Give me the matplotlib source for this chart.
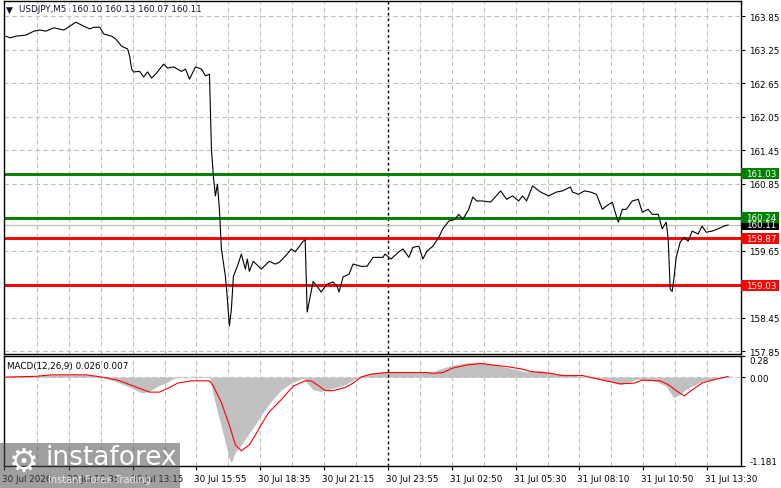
import matplotlib
matplotlib.use("Agg")
import matplotlib.pyplot as plt
from matplotlib.patches import Rectangle
from matplotlib.transforms import offset_copy

plt.rcParams['font.family'] = ['DejaVu Sans']

# price line (bar index, close)
bar_idx = [0, 2, 5, 10, 14, 17, 20, 24, 29, 32, 35, 39, 42, 44, 47, 49, 53, 55, 58, 61,
           62, 63, 64, 67, 69, 71, 73, 75, 79, 81, 84, 88, 90, 92, 95, 98, 100, 102, 103, 104,
           105, 106, 107, 108, 110, 111, 112, 113, 114, 116, 118, 120, 121, 122, 124, 128, 132, 135, 137, 141,
           143, 145, 149, 150, 151, 153, 154, 156, 158, 160, 161, 164, 166, 167, 169, 172, 174, 178, 181, 184,
           189, 190, 193, 197, 199, 202, 204, 207, 209, 211, 214, 217, 219, 222, 225, 227, 229, 232, 234, 236,
           239, 243, 248, 251, 254, 257, 259, 261, 264, 268, 272, 276, 279, 283, 284, 287, 290, 293, 296, 299,
           301, 304, 305, 307, 309, 311, 314, 317, 319, 322, 324, 327, 329, 331, 332, 333, 334, 335, 336, 338,
           340, 342, 344, 347, 349, 351, 354, 357, 360, 362]
close_px = [163.49, 163.46, 163.49, 163.51, 163.58, 163.60, 163.58, 163.64, 163.60, 163.67,
            163.74, 163.67, 163.62, 163.65, 163.65, 163.53, 163.49, 163.44, 163.31, 163.26,
            163.13, 162.90, 162.85, 162.86, 162.76, 162.85, 162.74, 162.81, 162.99, 162.92,
            162.94, 162.86, 162.90, 162.72, 162.94, 162.90, 162.78, 162.81, 161.47, 160.97,
            160.63, 160.84, 160.39, 159.68, 159.19, 158.78, 158.30, 158.60, 159.19, 159.37,
            159.59, 159.32, 159.50, 159.28, 159.46, 159.32, 159.46, 159.41, 159.44, 159.59,
            159.68, 159.63, 159.82, 159.84, 158.55, 158.91, 159.10, 159.01, 158.91, 159.01,
            159.05, 159.09, 159.01, 158.91, 159.18, 159.23, 159.41, 159.37, 159.37, 159.53,
            159.53, 159.59, 159.50, 159.63, 159.68, 159.53, 159.71, 159.73, 159.50, 159.64,
            159.73, 159.89, 160.04, 160.18, 160.21, 160.30, 160.21, 160.39, 160.61, 160.54,
            160.54, 160.52, 160.72, 160.57, 160.63, 160.54, 160.63, 160.54, 160.81, 160.70,
            160.63, 160.70, 160.72, 160.79, 160.70, 160.66, 160.72, 160.70, 160.66, 160.39,
            160.45, 160.52, 160.39, 160.16, 160.39, 160.39, 160.54, 160.57, 160.34, 160.39,
            160.30, 160.30, 160.04, 160.16, 159.86, 158.96, 158.92, 159.19, 159.53, 159.80,
            159.89, 159.82, 160.00, 159.95, 160.09, 159.98, 160.00, 160.04, 160.09, 160.11]

# MACD histogram and signal
hist_bars = [0, 15, 17, 40, 48, 53, 61, 68, 72, 76, 80, 83, 86, 92, 102, 104, 107, 110, 112, 113,
             115, 118, 121, 125, 128, 133, 138, 143, 149, 151, 154, 158, 161, 168, 173, 176, 181, 188, 194, 208,
             214, 219, 224, 231, 236, 243, 249, 256, 260, 268, 274, 283, 291, 298, 303, 308, 313, 316, 321, 326,
             331, 334, 335, 338, 341, 344, 349, 354, 359, 362]
hist_vals = [0.01, 0.01, 0.03, 0.03, 0.0, -0.04, -0.12, -0.21, -0.19, -0.12,
             -0.08, -0.035, 0.0, 0.01, 0.01, -0.25, -0.56, -0.87, -1.09, -1.13,
             -1.0, -0.9, -0.78, -0.63, -0.50, -0.32, -0.17, -0.08, -0.01, -0.08,
             -0.17, -0.19, -0.17, -0.12, -0.06, 0.0, 0.04, 0.07, 0.07, 0.07,
             0.07, 0.12, 0.16, 0.19, 0.20, 0.18, 0.14, 0.10, 0.07, 0.09,
             0.05, 0.03, 0.0, -0.03, -0.06, -0.10, -0.06, -0.03, -0.03, -0.06,
             -0.12, -0.25, -0.27, -0.23, -0.16, -0.12, -0.06, -0.03, 0.0, 0.026]
sig_bars = [0, 15, 23, 40, 48, 56, 64, 72, 77, 82, 86, 93, 102, 104, 108, 112, 115, 118, 122, 125,
            128, 132, 138, 144, 150, 153, 157, 160, 164, 170, 174, 178, 183, 191, 211, 214, 219, 224, 231, 238,
            244, 251, 258, 264, 273, 279, 289, 299, 308, 315, 319, 328, 332, 336, 340, 344, 349, 354, 362]
sig_vals = [0.0, 0.01, 0.03, 0.03, 0.0, -0.04, -0.12, -0.20, -0.20, -0.14,
            -0.08, -0.05, -0.05, -0.12, -0.34, -0.64, -0.90, -0.98, -0.90, -0.77,
            -0.63, -0.46, -0.30, -0.12, -0.05, -0.05, -0.12, -0.18, -0.18, -0.14,
            -0.08, 0.0, 0.04, 0.06, 0.06, 0.05, 0.06, 0.12, 0.16, 0.18,
            0.16, 0.14, 0.11, 0.07, 0.05, 0.02, 0.02, -0.04, -0.09, -0.08,
            -0.04, -0.05, -0.10, -0.18, -0.25, -0.17, -0.08, -0.04, 0.007]

levels = [161.03, 160.24, 159.87, 159.03]
level_colors = ['#008000', '#008000', '#ff0000', '#ff0000']
last_price = 160.11

price_ticks = [157.85, 158.45, 159.05, 159.65, 160.25, 160.85, 161.45, 162.05, 162.65, 163.25, 163.85]
price_tick_labels = ['157.85', '158.45', '159.65', '160.85', '161.45', '162.05', '162.65', '163.25', '163.85']
time_labels = ['30 Jul 2026', '30 Jul 10:35', '30 Jul 13:15', '30 Jul 15:55', '30 Jul 18:35',
               '30 Jul 21:15', '30 Jul 23:55', '31 Jul 02:50', '31 Jul 05:30', '31 Jul 08:10',
               '31 Jul 10:50', '31 Jul 13:30']

W, H = 781, 489
fig = plt.figure(figsize=(W / 100, H / 100), dpi=100)
ax = fig.add_axes([4 / W, 1 - 355 / H, 737 / W, 353 / H])
ax2 = fig.add_axes([4 / W, 1 - 467 / H, 737 / W, 110 / H])

grid_x = [15.5 + 16 * k for k in range(22)]
sep_x = grid_x[11]
gcol = '#c0c0c0'
fs = 6.3

# ---------------- main panel ----------------
ax.set_xlim(-1, 368.5)
ax.set_ylim(157.80, 164.12)
for gx in grid_x:
    if gx != sep_x:
        ax.axvline(gx, color=gcol, lw=0.8, ls=(0, (4, 3)), zorder=0)
ax.axvline(sep_x, color='black', lw=1.0, ls=(0, (2, 2)), zorder=1)
for py in price_ticks:
    ax.axhline(py, color=gcol, lw=0.8, ls=(0, (4, 3)), zorder=0)
ax.axhline(last_price, color='#c0c0c0', lw=0.9, zorder=1)
for lv, c in zip(levels, level_colors):
    ax.axhline(lv, color=c, lw=2.1, zorder=2)
ax.plot(bar_idx, close_px, color='black', lw=0.8, zorder=3)

ax.set_xticks([])
ax.yaxis.tick_right()
shown = [float(t) for t in price_tick_labels]
ax.set_yticks(shown)
ax.set_yticklabels(price_tick_labels)
ax.tick_params(axis='y', length=3, width=0.8, labelsize=fs, pad=3, colors='black')

# price boxes on the right
tr = ax.get_yaxis_transform()
box_h = 11 / 55.83
box_items = [(last_price, 'black')] + list(zip(levels, level_colors))
for lv, c in box_items:
    ax.add_patch(Rectangle((1.0005, lv - box_h / 2), 38 / 737, box_h, transform=tr,
                           facecolor=c, edgecolor='none', clip_on=False, zorder=5))
    ax.text(1.0068, lv, '%.2f' % lv, transform=tr, ha='left', va='center',
            fontsize=fs, color='white', zorder=6, clip_on=False)

for s in ax.spines.values():
    s.set_color('black')
    s.set_linewidth(1)

fig.text(6 / W, 1 - 10 / H, '\u25bc', fontsize=6.5, va='center', color='#101030')
fig.text(19 / W, 1 - 10 / H, 'USDJPY,M5  160.10 160.13 160.07 160.11', fontsize=fs,
         va='center', color='#101030')

# ---------------- MACD panel ----------------
ax2.set_xlim(-1, 368.5)
ax2.set_ylim(-1.181, 0.28)
for gx in grid_x:
    if gx != sep_x:
        ax2.axvline(gx, color=gcol, lw=0.8, ls=(0, (4, 3)), zorder=0)
ax2.axvline(sep_x, color='black', lw=1.0, ls=(0, (2, 2)), zorder=3)
ax2.axhline(0, color=gcol, lw=0.8, ls=(0, (4, 3)), zorder=0)
ax2.fill_between(hist_bars, 0, hist_vals, color='#c0c0c0', lw=0, zorder=1)
ax2.plot(sig_bars, sig_vals, color='#ff0000', lw=0.8, zorder=2)

ax2.yaxis.tick_right()
ax2.set_yticks([0.28, 0.0, -1.181])
ax2.set_yticklabels(['0.28', '0.00', '-1.181'])
ax2.tick_params(axis='y', length=3, width=0.8, labelsize=fs, pad=3)
ylabs = ax2.get_yticklabels()
ylabs[0].set_va('top')
ylabs[2].set_va('bottom')

label_x = [-1] + [grid_x[k] for k in range(1, 22, 2)]
ax2.set_xticks(label_x)
ax2.set_xticklabels(time_labels)
ax2.tick_params(axis='x', length=3, width=0.8, labelsize=fs, pad=3)
for t in ax2.get_xticklabels():
    t.set_ha('left')
    t.set_transform(offset_copy(t.get_transform(), fig=fig, x=-2, units='dots'))

for s in ax2.spines.values():
    s.set_color('black')
    s.set_linewidth(1)

fig.text(7 / W, 1 - 367 / H, 'MACD(12,26,9) 0.026 0.007', fontsize=fs, va='center', color='black')

# watermark
fig.patches.append(Rectangle((0, 0), 180 / W, 45 / H, transform=fig.transFigure,
                             facecolor='#505050', alpha=0.55, edgecolor='none', zorder=10))
fig.text(24 / W, 1 - 462 / H, '\u2699', fontsize=24, color='white', ha='center', va='center', zorder=11)
fig.text(46 / W, 1 - 458 / H, 'instaforex', fontsize=19, color='white', va='center', zorder=11)
fig.text(48 / W, 1 - 480 / H, 'Instant Forex Trading', fontsize=7, color='#e8e8e8', va='center', zorder=11)

fig.savefig('out.png', dpi=100)
